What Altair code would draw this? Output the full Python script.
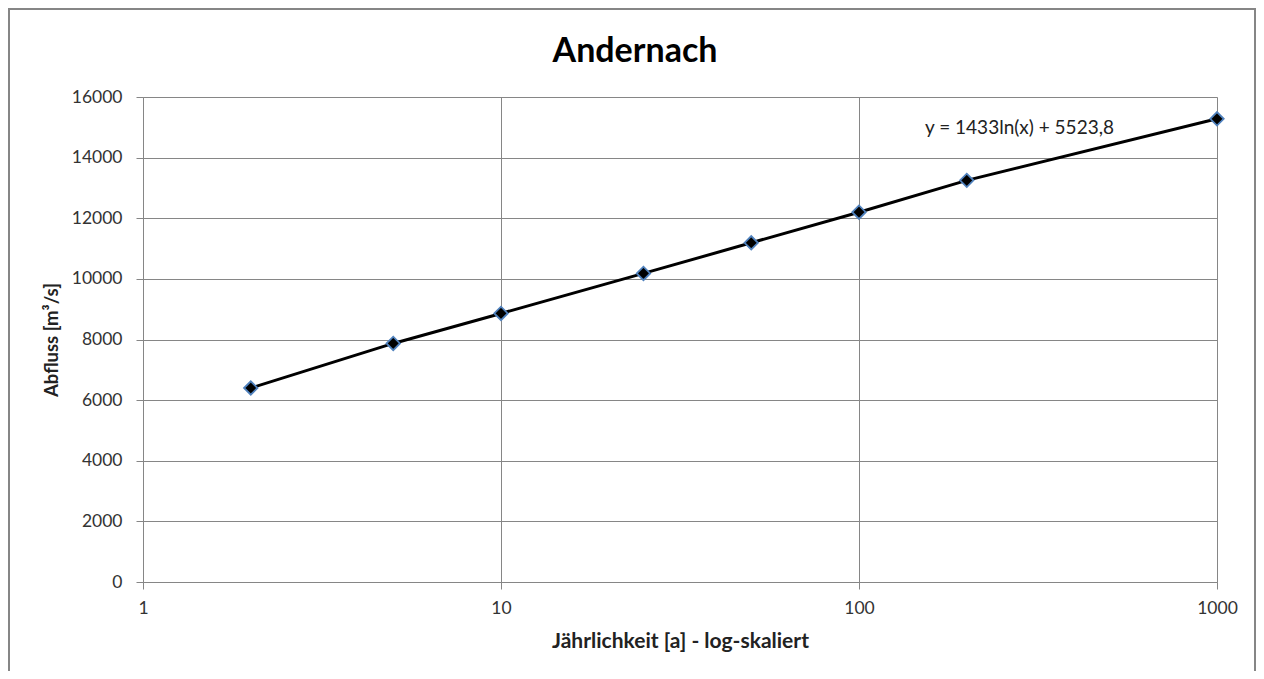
import altair as alt
import pandas as pd

years = [2, 5, 10, 25, 50, 100, 200, 1000]
flow = [6400, 7870, 8860, 10180, 11190, 12200, 13250, 15280]
x_ticks = [1, 10, 100, 1000]
y_ticks = [0, 2000, 4000, 6000, 8000, 10000, 12000, 14000, 16000]
title_text = "Andernach"
equation = "y = 1433ln(x) + 5523,8"
x_title = "Jährlichkeit [a] - log-skaliert"
y_title = "Abfluss [m³/s]"

df = pd.DataFrame({"x": years, "y": flow})
FONT = "Lato"
GRID = "#868686"

xs = alt.X("x:Q", scale=alt.Scale(type="log", domain=[1, 1000], nice=False),
           axis=alt.Axis(values=x_ticks, title=x_title, format="d",
                         grid=True, gridColor=GRID, domainColor=GRID, tickColor=GRID,
                         tickSize=7, labelPadding=10, labelFontSize=17.5, labelColor="#333333",
                         labelFont=FONT, titleFont=FONT, titleFontSize=21, titleFontWeight="bold",
                         titleColor="#222222", titlePadding=14, labelFlush=False))
ys = alt.Y("y:Q", scale=alt.Scale(domain=[0, 16000], nice=False),
           axis=alt.Axis(values=y_ticks, title=y_title, format="d",
                         grid=True, gridColor=GRID, domainColor=GRID, tickColor=GRID,
                         tickSize=7, labelPadding=14, labelFontSize=17.5, labelColor="#333333",
                         labelFont=FONT, titleFont=FONT, titleFontSize=18.5, titleFontWeight="bold",
                         titleColor="#222222", titlePadding=10))

base = alt.Chart(df)

line = base.mark_line(color="black", strokeWidth=3).encode(x=xs, y=ys)
pts = base.mark_point(shape="diamond", size=180, filled=True, fill="black",
                      stroke="#4F81BD", strokeWidth=1.8, opacity=1).encode(x="x:Q", y="y:Q")

deco = pd.DataFrame({"t": [title_text], "e": [equation]})
border = alt.Chart(deco).mark_rect(fill=None, stroke="#868686", strokeWidth=2).encode(
    x=alt.value(-134), x2=alt.value(1112), y=alt.value(-88), y2=alt.value(700))
title = alt.Chart(deco).mark_text(font=FONT, fontSize=34, fontWeight="bold", color="black",
                                  align="center", baseline="middle").encode(
    text="t:N", x=alt.value(492), y=alt.value(-45))
eq = alt.Chart(deco).mark_text(font=FONT, fontSize=19, color="#222222",
                               align="left", baseline="middle").encode(
    text="e:N", x=alt.value(782), y=alt.value(31))

chart = alt.layer(border, line, pts, title, eq).properties(
    width=1074, height=485,
    autosize=alt.AutoSizeParams(type="none"),
    padding={"left": 135, "top": 89, "right": 39, "bottom": 89},
).configure_view(stroke=None).configure(background="white")

chart.save("out.html", embed_options={"renderer": "svg", "actions": False})
